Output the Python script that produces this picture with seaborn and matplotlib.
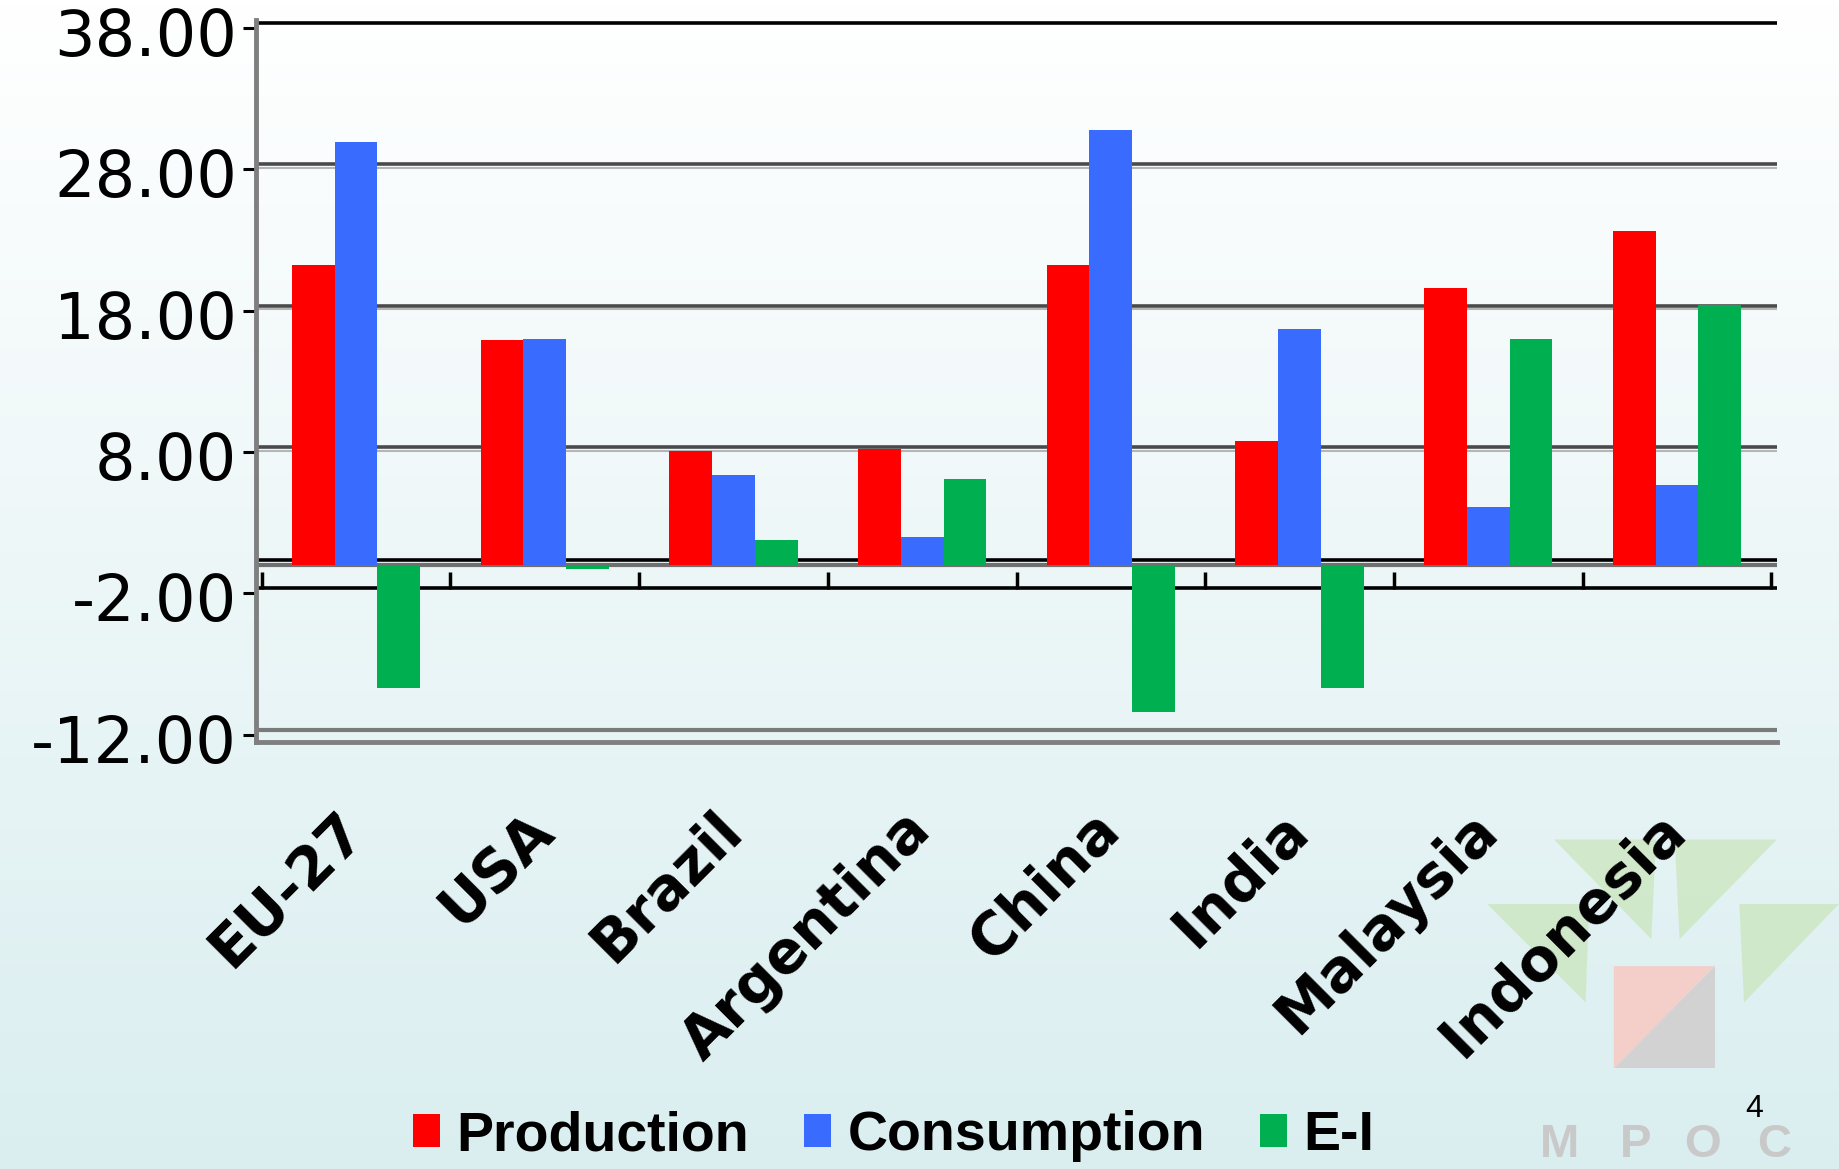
import numpy as np
import pandas as pd
import matplotlib
matplotlib.use("Agg")
import matplotlib.pyplot as plt
import matplotlib.transforms as mtransforms
import seaborn as sns
from matplotlib.patches import Polygon

# ---------------- data ----------------
categories = ["EU-27", "USA", "Brazil", "Argentina", "China", "India", "Malaysia", "Indonesia"]
production = [21.2, 15.9, 8.1, 8.2, 21.2, 8.8, 19.6, 23.6]
consumption = [29.9, 16.0, 6.4, 2.0, 30.8, 16.7, 4.1, 5.7]
e_i = [-8.7, -0.3, 1.8, 6.1, -10.4, -8.7, 16.0, 18.4]
series = ["Production", "Consumption", "E-I"]
yticks = [-12, -2, 8, 18, 28, 38]

colors = ["#FF0000", "#3A6BFF", "#00B050"]

df = pd.DataFrame({
    "Country": categories * 3,
    "Series": [series[0]] * len(categories) + [series[1]] * len(categories) + [series[2]] * len(categories),
    "Value": production + consumption + e_i,
})

sns.set_theme(style="white")
plt.rcParams["font.family"] = ["DejaVu Sans"]
plt.rcParams["text.color"] = "black"

W, H = 1839, 1169
fig = plt.figure(figsize=(W / 100, H / 100), dpi=100)

# background gradient
bg = fig.add_axes([0, 0, 1, 1], zorder=-10)
grad = np.linspace(0, 1, 256)[:, None]
top = np.array([1.0, 1.0, 1.0])
bot = np.array([218, 238, 240]) / 255.0
img = top[None, None, :] * (1 - grad[:, :, None]) + bot[None, None, :] * grad[:, :, None]
bg.imshow(img, aspect="auto", extent=[0, 1, 0, 1], origin="upper")
bg.set_axis_off()

ax = fig.add_axes([0.1392, 0.3653, 0.8271, 0.6176])
ax.set_facecolor("none")

sns.barplot(data=df, x="Country", y="Value", hue="Series", order=categories,
            hue_order=series, palette=colors, width=0.68, saturation=1,
            errorbar=None, ax=ax, zorder=3, linewidth=0)

DEPTH = 0.35  # back-wall offset of the pseudo-3D gridlines
ax.set_ylim(-12.5, 38.55)
ax.set_xlim(-0.53, len(categories) - 0.47)

# gridlines on back wall
for t in yticks:
    if t == yticks[-1]:
        ax.axhline(t + DEPTH, color="black", lw=2.6, zorder=1)
    elif t == yticks[0]:
        ax.axhline(t + DEPTH, color="#7A7A7A", lw=3.0, zorder=1)
    elif t > 0:
        ax.axhline(t + DEPTH, color="#4A4A4A", lw=2.6, zorder=1)
        ax.axhline(t + DEPTH - 0.25, color="#B5B5B5", lw=1.5, zorder=1)
# back zero line, floor and front edge with category dividers
ax.axhline(0 + DEPTH, color="black", lw=2.6, zorder=1)
ax.axhline(0, color="#707070", lw=3.0, zorder=2)
ax.axhline(-1.6, color="black", lw=2.6, zorder=2)
ax.vlines(np.arange(-0.5, len(categories)), -1.7, -0.45, color="black", lw=2.5, zorder=2)

for s in ["top", "right"]:
    ax.spines[s].set_visible(False)
ax.spines["left"].set_color("#7F7F7F")
ax.spines["left"].set_linewidth(3.5)
ax.spines["bottom"].set_color("#7F7F7F")
ax.spines["bottom"].set_linewidth(3.5)

ax.set_yticks(yticks)
ax.set_yticklabels([f"{v:.2f}" for v in yticks], fontsize=46, color="black")
ax.tick_params(axis="y", direction="out", length=9.5, width=2.2, color="black", pad=4, left=True)
shift = mtransforms.ScaledTranslation(0, -3.5 / 100, fig.dpi_scale_trans)
for lbl in ax.get_yticklabels():
    lbl.set_transform(lbl.get_transform() + shift)
ax.set_xlabel("")
ax.set_ylabel("")
ax.set_xticks(range(len(categories)))
ax.set_xticklabels(categories, rotation=45, ha="right", va="center", rotation_mode="anchor",
                   fontsize=42, fontweight="bold", color="black")
ax.tick_params(axis="x", length=0, pad=57)

handles, labels = ax.get_legend_handles_labels()
if ax.get_legend() is not None:
    ax.get_legend().remove()
fig.legend(handles, labels, loc="center", bbox_to_anchor=(0.486, 0.028), ncol=3, frameon=False,
           prop=dict(family="Liberation Sans", weight="bold", size=40), labelcolor="black",
           handlelength=0.47, handleheight=0.55, handletextpad=0.3, columnspacing=1.0)

# watermark logo (decoration), in reference display coords 1568x997
def fc(x, y):
    return (x / 1568.0, 1 - y / 997.0)

green = "#CFE8C6"
for tri in [[(1325, 716), (1412, 716), (1408, 801)],
            [(1428, 716), (1515, 716), (1432, 801)],
            [(1268, 771), (1355, 771), (1352, 855)],
            [(1483, 771), (1568, 771), (1487, 855)]]:
    fig.patches.append(Polygon([fc(*p) for p in tri], closed=True, transform=fig.transFigure,
                               facecolor=green, edgecolor="none", zorder=-5, alpha=0.9))
fig.patches.append(Polygon([fc(1376, 824), fc(1462, 824), fc(1376, 911)], closed=True,
                           transform=fig.transFigure, facecolor="#F4CFC9", edgecolor="none", zorder=-5))
fig.patches.append(Polygon([fc(1462, 824), fc(1462, 911), fc(1376, 911)], closed=True,
                           transform=fig.transFigure, facecolor="#D2D2D2", edgecolor="none", zorder=-5))
for ch, x in zip("MPOC", [1330, 1395, 1452, 1513]):
    fig.text(x / 1568.0, 0.002, ch, ha="center", va="bottom", fontsize=34, fontweight="bold",
             family="Liberation Sans", color="#C9C9C9", zorder=-4)
fx, fy = fc(1496, 946)
fig.text(fx, fy, "4", ha="center", va="center", fontsize=23, family="Liberation Sans", color="black")

fig.savefig("out.png", dpi=100)
